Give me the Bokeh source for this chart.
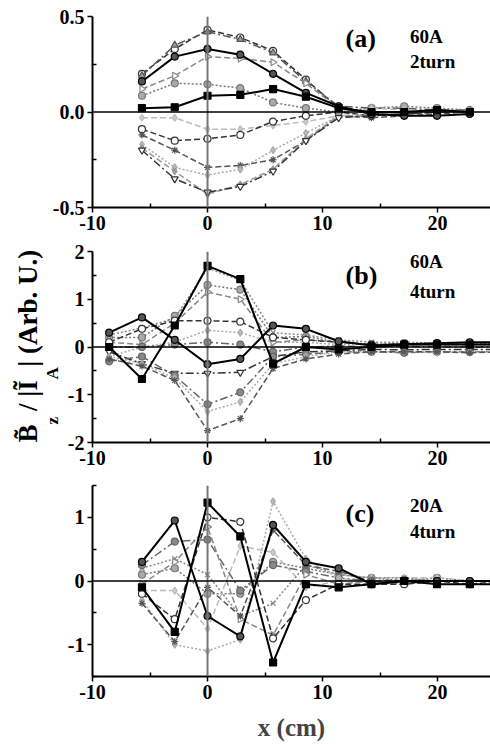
from math import pi
from bokeh.plotting import figure
from bokeh.layouts import column
from bokeh.models import Span, Label, FixedTicker, Range1d, Title
from bokeh.embed import file_html
from bokeh.resources import INLINE

FONT = "Liberation Serif"

# ---------------- data ----------------
x_ticks = [-10, 0, 10, 20]
x_tick_labels = ["-10", "0", "10", "20"]
x_minor = [-5, 5, 15]

# panel (a) 60A 2turn
x_a = [-5.7, -2.85, 0.0, 2.85, 5.7, 8.55, 11.4, 14.25, 17.1, 19.95, 22.8]
a1 = [0.20, 0.33, 0.43, 0.39, 0.32, 0.17, 0.02, -0.01, 0.00, 0.01, 0.00]
a2 = [0.19, 0.35, 0.42, 0.38, 0.31, 0.16, 0.03, 0.02, 0.02, 0.01, 0.01]
a3 = [0.16, 0.29, 0.33, 0.30, 0.20, 0.10, 0.03, -0.01, -0.02, -0.02, -0.01]
a4 = [0.12, 0.19, 0.29, 0.28, 0.26, 0.15, 0.02, -0.01, 0.00, 0.01, 0.00]
a5 = [0.085, 0.15, 0.145, 0.125, 0.05, 0.02, 0.00, 0.02, 0.03, 0.02, 0.01]
a6 = [0.02, 0.025, 0.085, 0.09, 0.12, 0.08, 0.02, 0.00, 0.00, 0.01, 0.00]
a7 = [-0.03, -0.03, -0.09, -0.09, -0.07, -0.05, -0.02, 0.02, 0.01, 0.00, 0.00]
a8 = [-0.09, -0.15, -0.14, -0.12, -0.05, -0.02, 0.00, -0.02, -0.01, 0.00, 0.00]
a9 = [-0.12, -0.20, -0.29, -0.28, -0.25, -0.15, -0.02, -0.03, -0.02, -0.01, 0.00]
a10 = [-0.17, -0.29, -0.33, -0.30, -0.20, -0.11, -0.02, -0.01, 0.00, 0.00, 0.00]
a11 = [-0.20, -0.35, -0.42, -0.39, -0.31, -0.15, -0.03, -0.02, -0.01, 0.00, 0.00]
a12 = [-0.19, -0.31, -0.43, -0.38, -0.30, -0.14, -0.02, -0.02, 0.00, 0.01, 0.00]
a_y_ticks = [-0.5, 0.0, 0.5]
a_y_labels = ["-0.5", "0.0", "0.5"]
a_y_minor = [-0.25, 0.25]

# panel (b) 60A 4turn
x_b = [-8.55, -5.7, -2.85, 0.0, 2.85, 5.7, 8.55, 11.4, 14.25, 17.1, 19.95, 22.8, 25.65]
b1 = [0.30, 0.62, 0.15, -0.36, -0.25, 0.45, 0.38, 0.12, 0.03, 0.06, 0.08, 0.10, 0.10]
b2 = [0.00, -0.67, 0.45, 1.70, 1.42, -0.35, 0.00, -0.05, 0.00, 0.05, 0.05, 0.05, 0.05]
b3 = [0.10, 0.38, 0.55, 0.55, 0.53, 0.20, 0.15, 0.10, 0.05, 0.06, 0.05, 0.05, 0.05]
b4 = [-0.10, -0.35, -0.55, -0.55, -0.53, -0.20, -0.10, -0.08, -0.05, -0.06, -0.05, -0.05, -0.05]
b5 = [0.20, 0.20, 0.65, 1.30, 1.20, 0.20, 0.22, 0.10, 0.05, 0.08, 0.05, 0.06, 0.05]
b6 = [0.10, 0.05, 0.50, 1.15, 1.00, 0.10, 0.15, 0.10, 0.05, 0.05, 0.07, 0.05, 0.05]
b7 = [-0.20, 0.00, 0.10, 0.35, 0.30, 0.10, 0.10, 0.05, 0.05, 0.05, 0.05, 0.05, 0.05]
b8 = [-0.30, -0.20, -0.60, -1.20, -0.95, -0.20, -0.15, -0.10, -0.10, -0.12, -0.10, -0.10, -0.10]
b9 = [-0.20, -0.35, -0.65, -1.35, -1.15, -0.35, -0.20, -0.10, -0.10, -0.10, -0.12, -0.10, -0.10]
b10 = [-0.25, -0.40, -0.70, -1.75, -1.50, -0.45, -0.25, -0.15, -0.10, -0.10, -0.10, -0.12, -0.10]
b11 = [0.25, 0.40, 0.60, 1.65, 1.40, 0.30, 0.25, 0.15, 0.10, 0.10, 0.08, 0.08, 0.08]
b12 = [0.00, 0.00, 0.05, 0.10, 0.05, -0.10, 0.00, 0.02, 0.00, 0.02, 0.00, 0.00, 0.00]
b_y_ticks = [-2, -1, 0, 1, 2]
b_y_labels = ["-2", "-1", "0", "1", "2"]
b_y_minor = [-1.5, -0.5, 0.5, 1.5]

# panel (c) 20A 4turn
x_c = [-5.7, -2.85, 0.0, 2.85, 5.7, 8.55, 11.4, 14.25, 17.1, 19.95, 22.8, 25.65]
c1 = [0.30, 0.95, -0.55, -0.87, 0.88, 0.30, 0.20, -0.05, 0.00, 0.00, 0.00, 0.00]
c2 = [-0.10, -0.80, 1.23, 0.70, -1.28, -0.05, -0.10, -0.05, 0.00, -0.05, -0.05, -0.05]
c3 = [-0.30, -1.00, -1.10, -0.92, 1.25, 0.35, 0.05, -0.05, 0.00, 0.00, 0.00, 0.00]
c4 = [0.25, 0.62, 0.65, -0.15, 0.25, 0.15, 0.05, 0.00, 0.02, 0.00, 0.00, 0.00]
c5 = [0.20, 0.35, 0.10, -0.55, -0.35, 0.25, 0.10, 0.05, 0.05, 0.00, 0.00, 0.00]
c6 = [-0.15, -0.15, -0.75, 0.55, 0.45, -0.10, 0.00, 0.05, 0.05, 0.05, 0.00, 0.00]
c7 = [-0.20, -0.60, 1.00, 0.93, -0.90, -0.30, -0.05, -0.05, -0.05, 0.00, -0.05, 0.00]
c8 = [-0.35, -0.95, -0.10, -0.55, 0.80, 0.25, 0.15, 0.00, 0.00, 0.00, 0.00, 0.00]
c9 = [0.10, 0.20, -0.20, -0.20, 0.30, 0.20, 0.10, 0.05, 0.00, 0.05, 0.00, 0.00]
c10 = [-0.05, 0.30, 0.85, -0.60, -0.85, 0.10, -0.05, 0.00, -0.05, 0.00, 0.00, 0.00]
c_y_ticks = [-1, 0, 1]
c_y_labels = ["-1", "0", "1"]
c_y_minor = [-1.5, -0.5, 0.5, 1.5]

# y axis title: main line and its subscripts (figure spaces keep the gaps)
FS = "\u2007"
ylab_main = "B\u0303" + FS + "/ |I\u0303" + FS + "| (Arb. U.)"
ylab_sub = "z" + FS * 4 + "\u2009" + "A"

# ---------------- styles ----------------
# (color, dash, marker, fill, width, angle)
ST = {
    "k_circle": ("black", "solid", "circle", "#555555", 2.0, 0),
    "k_square": ("black", "solid", "square", "black", 2.0, 0),
    "d_dash_circle": ("#333333", "6 3", "circle", "white", 1.5, 0),
    "d_dashdot_tri": ("#555555", "8 3 2 3", "triangle", "#999999", 1.5, 0),
    "g_dash_rtri": ("#888888", "6 3", "triangle", "white", 1.5, -pi / 2),
    "g_dot_circle": ("#777777", "2 2", "circle", "#aaaaaa", 1.5, 0),
    "l_dash_diamond": ("#bbbbbb", "6 3", "diamond", "#cccccc", 1.5, 0),
    "d_dash_x": ("#555555", "6 3", "asterisk", "#555555", 1.5, 0),
    "l_dot_diamond": ("#aaaaaa", "2 2", "diamond", "#bbbbbb", 1.5, 0),
    "d_dashdot_itri": ("#333333", "8 3 2 3", "inverted_triangle", "white", 1.5, 0),
    "g_dash_diamond": ("#999999", "6 3", "diamond", "#999999", 1.5, 0),
    "g_dashdot_circle": ("#666666", "8 3 2 3", "circle", "#888888", 1.5, 0),
    "g_dot_x": ("#888888", "2 2", "x", "#888888", 1.5, 0),
}


def draw(p, xs, ys, key):
    color, dash, marker, fill, width, angle = ST[key]
    p.line(xs, ys, line_color=color, line_dash=dash, line_width=width)
    p.scatter(xs, ys, marker=marker, size=7, line_color=color, fill_color=fill,
              angle=angle, line_width=1.2)


def make_fig(top, bottom, left, yr, yt, yl, ym):
    p = figure(frame_width=398, frame_height=191, min_border_left=left, min_border_right=0,
               min_border_top=top, min_border_bottom=bottom,
               x_range=Range1d(-10, 24.6), y_range=Range1d(*yr),
               output_backend="svg", toolbar_location=None)
    p.outline_line_color = None
    p.xgrid.visible = False
    p.ygrid.visible = False
    p.background_fill_color = "white"
    p.border_fill_color = "white"
    p.xaxis.ticker = FixedTicker(ticks=x_ticks, minor_ticks=x_minor)
    p.xaxis.major_label_overrides = {t: l for t, l in zip(x_ticks, x_tick_labels)}
    p.yaxis.ticker = FixedTicker(ticks=yt, minor_ticks=ym)
    p.yaxis.major_label_overrides = {t: l for t, l in zip(yt, yl)}
    for ax in (p.xaxis[0], p.yaxis[0]):
        ax.axis_line_width = 2
        ax.axis_line_color = "black"
        ax.major_tick_line_width = 1.5
        ax.minor_tick_line_width = 1.5
        ax.major_tick_out = 5
        ax.major_tick_in = 0
        ax.minor_tick_out = 0
        ax.minor_tick_in = 4
        ax.major_label_text_font = FONT
        ax.major_label_text_font_style = "bold"
        ax.major_label_text_font_size = "20px"
        ax.major_label_text_color = "black"
        ax.major_label_standoff = 3
    p.add_layout(Span(location=0, dimension="height", line_color="#777777", line_width=2))
    p.add_layout(Span(location=0, dimension="width", line_color="black", line_width=1.5))
    return p


def tag(p, x, y, text, size):
    p.add_layout(Label(x=x, y=y, text=text, text_font=FONT, text_font_style="bold",
                       text_font_size=size, text_color="black"))


# panel a
pa = make_fig(16, 33, 92, (-0.5, 0.5), a_y_ticks, a_y_labels, a_y_minor)
draw(pa, x_a, a1, "d_dash_circle")
draw(pa, x_a, a2, "d_dashdot_tri")
draw(pa, x_a, a4, "g_dash_rtri")
draw(pa, x_a, a5, "g_dot_circle")
draw(pa, x_a, a7, "l_dash_diamond")
draw(pa, x_a, a8, "d_dash_circle")
draw(pa, x_a, a9, "d_dash_x")
draw(pa, x_a, a10, "l_dot_diamond")
draw(pa, x_a, a12, "g_dash_diamond")
draw(pa, x_a, a11, "d_dashdot_itri")
draw(pa, x_a, a3, "k_circle")
draw(pa, x_a, a6, "k_square")
tag(pa, 12.0, 0.31, "(a)", "26px")
tag(pa, 17.6, 0.34, "60A", "19px")
tag(pa, 17.6, 0.21, "2turn", "19px")

# panel b
pb = make_fig(11, 36, 92, (-2, 2), b_y_ticks, b_y_labels, b_y_minor)
draw(pb, x_b, b7, "l_dot_diamond")
draw(pb, x_b, b6, "g_dash_rtri")
draw(pb, x_b, b5, "g_dot_circle")
draw(pb, x_b, b11, "g_dot_x")
draw(pb, x_b, b12, "g_dashdot_circle")
draw(pb, x_b, b3, "d_dash_circle")
draw(pb, x_b, b4, "d_dashdot_itri")
draw(pb, x_b, b8, "g_dashdot_circle")
draw(pb, x_b, b9, "l_dot_diamond")
draw(pb, x_b, b10, "d_dash_x")
draw(pb, x_b, b1, "k_circle")
draw(pb, x_b, b2, "k_square")
tag(pb, 12.0, 1.20, "(b)", "26px")
tag(pb, 17.6, 1.58, "60A", "19px")
tag(pb, 17.6, 0.94, "4turn", "19px")
pb.add_layout(Title(text=ylab_sub, align="left", offset=18, standoff=5,
                    text_font=FONT, text_font_style="bold", text_font_size="17px",
                    text_color="black"), "left")
pb.add_layout(Title(text=ylab_main, align="left", offset=0, standoff=-9,
                    text_font=FONT, text_font_style="bold", text_font_size="27px",
                    text_color="black"), "left")

# panel c
pc = make_fig(7, 60, 92, (-1.5, 1.5), c_y_ticks, c_y_labels, c_y_minor)
draw(pc, x_c, c9, "g_dot_circle")
draw(pc, x_c, c6, "l_dash_diamond")
draw(pc, x_c, c5, "g_dot_x")
draw(pc, x_c, c4, "g_dashdot_circle")
draw(pc, x_c, c10, "g_dash_rtri")
draw(pc, x_c, c3, "l_dot_diamond")
draw(pc, x_c, c8, "d_dash_x")
draw(pc, x_c, c7, "d_dash_circle")
draw(pc, x_c, c1, "k_circle")
draw(pc, x_c, c2, "k_square")
tag(pc, 12.0, 0.83, "(c)", "26px")
tag(pc, 17.6, 1.02, "20A", "19px")
tag(pc, 17.6, 0.62, "4turn", "19px")
pc.xaxis.axis_label = "x (cm)"
pc.xaxis.axis_label_text_font = FONT
pc.xaxis.axis_label_text_font_style = "bold"
pc.xaxis.axis_label_text_font_size = "25px"
pc.xaxis.axis_label_standoff = 12

layout = column(pa, pb, pc, spacing=0)
open("out.html", "w").write(file_html(layout, INLINE))
